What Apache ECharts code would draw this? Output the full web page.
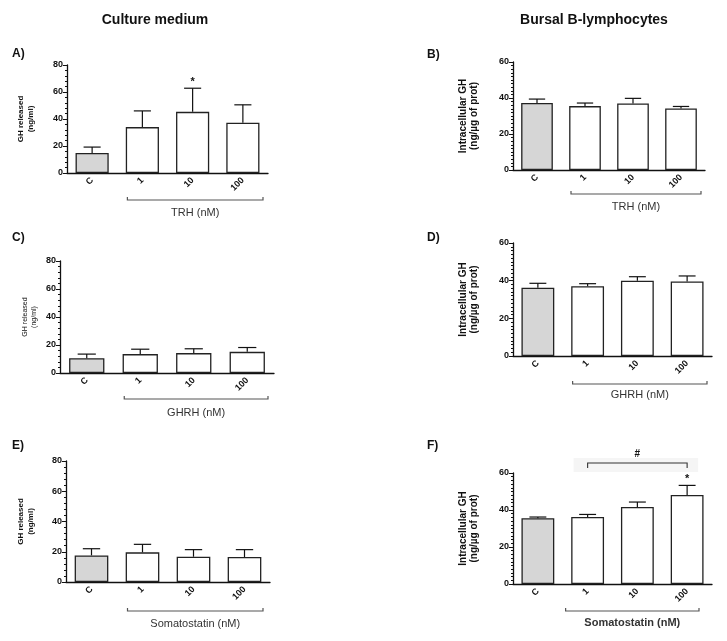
<!DOCTYPE html>
<html><head><meta charset="utf-8">
<script src="https://cdn.jsdelivr.net/npm/echarts@6/dist/echarts.min.js"></script>
<style>html,body{margin:0;padding:0;background:#fff}#c{width:727px;height:641px}</style>
</head><body><div id="c"></div>
<script>
// ---- data ----
const categories = ['C', '1', '10', '100'];
const meanA = [14.8, 34, 45.3, 37.2];
const semA  = [4.4, 12, 17.5, 13.3];
const meanB = [37.2, 35.5, 37, 34.2];
const semB  = [2.2, 1.7, 2.8, 1.1];
const meanC = [10.6, 13.5, 14.2, 15.1];
const semC  = [2.9, 3.5, 3.1, 3.1];
const meanD = [36.3, 37, 40, 39.6];
const semD  = [2.3, 1.4, 2.1, 2.9];
const meanE = [17.6, 19.6, 16.7, 16.5];
const semE  = [4.4, 5.3, 4.7, 4.9];
const meanF = [35.6, 36.2, 41.6, 48.1];
const semF  = [0.6, 1.4, 2.7, 5.2];
const starsA = ['', '', '*', ''];
const starsF = ['', '', '', '*'];
const yMaxLeft = 80, yMaxRight = 60, yStep = 20;
const nameLeft = 'GH released\n(ng/ml)';
const nameRight = 'Intracellular GH\n(ng/\u00b5g of prot)';
const groupTRH = 'TRH (nM)', groupGHRH = 'GHRH (nM)', groupSS = 'Somatostatin (nM)';
const hashBracketF = {from: 1, to: 3, label: '#'};
const columnTitles = ['Culture medium', 'Bursal B-lymphocytes'];
const panelLetters = ['A)', 'B)', 'C)', 'D)', 'E)', 'F)'];

// ---- layout (positions/styles) ----
const FF = '"Liberation Sans", Arial, sans-serif';
const layout = [
  {left: 67, top: 65, width: 201, height: 108, gap: 31, nf: 'bold 8px', lh: 10, minor: 5, bdy: 27, tdy: 13, sdx: -15, edx: -5, gf: 'normal 11px', lx: 12, ly: 54},
  {left: 513, top: 62, width: 192, height: 108, gap: 33, nf: 'bold 10px', lh: 11, minor: 10, bdy: 24, tdy: 13, sdx: -14, edx: -4, gf: 'normal 11px', lx: 427, ly: 55},
  {left: 60, top: 261, width: 214, height: 112, gap: 21, nf: 'normal 7px', lh: 9, minor: 5, bdy: 26, tdy: 14, sdx: -16, edx: -6, gf: 'normal 11px', lx: 12, ly: 238},
  {left: 513, top: 243, width: 199, height: 113, gap: 33, nf: 'bold 10px', lh: 11, minor: 10, bdy: 28, tdy: 11, sdx: -15, edx: -5, gf: 'normal 11px', lx: 427, ly: 238},
  {left: 66, top: 461, width: 204, height: 121, gap: 30, nf: 'bold 8px', lh: 10, minor: 5, bdy: 29, tdy: 13, sdx: -15, edx: -7, gf: 'normal 11px', lx: 12, ly: 446},
  {left: 513, top: 473, width: 199, height: 111, gap: 33, nf: 'bold 10px', lh: 11, minor: 10, bdy: 27, tdy: 12, sdx: -22, edx: -13, gf: 'bold 11px', lx: 427, ly: 446}
];

const panels = [
  {mean: meanA, sem: semA, yMax: yMaxLeft, name: nameLeft, group: groupTRH, stars: starsA},
  {mean: meanB, sem: semB, yMax: yMaxRight, name: nameRight, group: groupTRH},
  {mean: meanC, sem: semC, yMax: yMaxLeft, name: nameLeft, group: groupGHRH},
  {mean: meanD, sem: semD, yMax: yMaxRight, name: nameRight, group: groupGHRH},
  {mean: meanE, sem: semE, yMax: yMaxLeft, name: nameLeft, group: groupSS},
  {mean: meanF, sem: semF, yMax: yMaxRight, name: nameRight, group: groupSS, stars: starsF, hash: hashBracketF}
];

const grid = [], xAxis = [], yAxis = [], series = [];
panels.forEach((p, i) => {
  const L = layout[i];
  grid.push({left: L.left, top: L.top, width: L.width, height: L.height});
  xAxis.push({
    type: 'category', gridIndex: i, data: categories, boundaryGap: true,
    axisLine: {lineStyle: {color: '#111', width: 1.3}},
    axisTick: {alignWithLabel: true, length: 3, lineStyle: {color: '#111'}},
    axisLabel: {rotate: 45, margin: 6, color: '#111', fontFamily: FF, fontWeight: 'bold', fontSize: 9}
  });
  yAxis.push({
    type: 'value', gridIndex: i, min: 0, max: p.yMax, interval: yStep,
    name: p.name, nameLocation: 'middle', nameRotate: 90, nameGap: L.gap,
    nameTextStyle: {color: '#111', fontFamily: FF, fontWeight: L.nf.split(' ')[0], fontSize: parseFloat(L.nf.split(' ')[1]), lineHeight: L.lh, align: 'center'},
    splitLine: {show: false},
    axisLine: {show: true, lineStyle: {color: '#111', width: 1.3}},
    axisTick: {show: true, length: 4, lineStyle: {color: '#111', width: 1}},
    minorTick: {show: true, splitNumber: L.minor, length: 2, lineStyle: {color: '#111', width: 1}},
    axisLabel: {margin: 4, color: '#111', fontFamily: FF, fontWeight: 'bold', fontSize: 9}
  });
  series.push({
    type: 'bar', xAxisIndex: i, yAxisIndex: i, barWidth: '66%', z: 2,
    data: p.mean.map((v, k) => ({value: v, itemStyle: {color: k === 0 ? '#d6d6d6' : '#ffffff'}})),
    itemStyle: {borderColor: '#222', borderWidth: 1.3},
    emphasis: {disabled: true}, animation: false
  });
  // error bars (mean + SEM)
  series.push({
    type: 'custom', xAxisIndex: i, yAxisIndex: i, z: 3, animation: false, clip: false,
    data: p.mean.map((v, k) => [k, v, p.sem[k], (p.stars && p.stars[k]) || '']),
    encode: {x: 0, y: 1},
    renderItem: function (params, api) {
      const x = api.value(0), m = api.value(1), s = api.value(2);
      const star = p.stars ? p.stars[x] : '';
      const p0 = api.coord([x, m]), p1 = api.coord([x, m + s]);
      const half = api.size([1, 0])[0] * 0.17;
      const ch = [
        {type: 'line', shape: {x1: p0[0], y1: p0[1], x2: p1[0], y2: p1[1]}, style: {stroke: '#111', lineWidth: 1.2}},
        {type: 'line', shape: {x1: p1[0] - half, y1: p1[1], x2: p1[0] + half, y2: p1[1]}, style: {stroke: '#111', lineWidth: 1.2}}
      ];
      if (star) ch.push({type: 'text', style: {text: star, x: p1[0], y: p1[1] - 1, align: 'center', verticalAlign: 'bottom', font: 'bold 11px ' + FF, fill: '#111'}});
      return {type: 'group', children: ch};
    }
  });
  // group bracket under treatment categories
  series.push({
    type: 'custom', xAxisIndex: i, yAxisIndex: i, z: 3, animation: false, clip: false, silent: true,
    data: [[0, 0]], encode: {x: 0, y: 1},
    renderItem: function (params, api) {
      const cs = params.coordSys;
      const base = api.coord([1, 0]);
      const x1 = base[0] + L.sdx, x2 = cs.x + cs.width + L.edx, y = base[1] + L.bdy;
      const ch = [
        {type: 'polyline', shape: {points: [[x1, y - 3], [x1, y], [x2, y], [x2, y - 3]]}, style: {stroke: '#555', lineWidth: 1.2, fill: null}},
        {type: 'text', style: {text: p.group, x: (x1 + x2) / 2, y: y + L.tdy, align: 'center', verticalAlign: 'middle', font: L.gf + ' ' + FF, fill: '#333'}}
      ];
      if (p.hash) {
        const a = api.coord([p.hash.from, p.yMax]), b = api.coord([p.hash.to, p.yMax]);
        const hy = cs.y - 10;
        ch.push({type: 'rect', shape: {x: a[0] - 14, y: hy - 5, width: b[0] - a[0] + 25, height: 14}, style: {fill: '#f5f5f5'}, z2: -1});
        ch.push({type: 'polyline', shape: {points: [[a[0], hy + 5], [a[0], hy], [b[0], hy], [b[0], hy + 5]]}, style: {stroke: '#333', lineWidth: 1.1, fill: null}});
        ch.push({type: 'text', style: {text: p.hash.label, x: (a[0] + b[0]) / 2, y: hy - 9, align: 'center', verticalAlign: 'middle', font: 'bold 10px ' + FF, fill: '#111'}});
      }
      return {type: 'group', children: ch};
    }
  });
});

const graphic = [
  {type: 'text', x: 155, y: 20, style: {text: columnTitles[0], font: 'bold 14px ' + FF, fill: '#111', align: 'center', verticalAlign: 'middle', textAlign: 'center', textVerticalAlign: 'middle'}},
  {type: 'text', x: 594, y: 20, style: {text: columnTitles[1], font: 'bold 14px ' + FF, fill: '#111', align: 'center', verticalAlign: 'middle', textAlign: 'center', textVerticalAlign: 'middle'}}
];
panelLetters.forEach((t, i) => {
  graphic.push({type: 'text', x: layout[i].lx, y: layout[i].ly, style: {text: t, font: 'bold 12px ' + FF, fill: '#111', verticalAlign: 'middle', textVerticalAlign: 'middle'}});
});

const chart = echarts.init(document.getElementById('c'), null, {renderer: 'canvas'});
chart.setOption({backgroundColor: '#fff', animation: false, grid, xAxis, yAxis, series, graphic, tooltip: {show: false}});
</script></body></html>
